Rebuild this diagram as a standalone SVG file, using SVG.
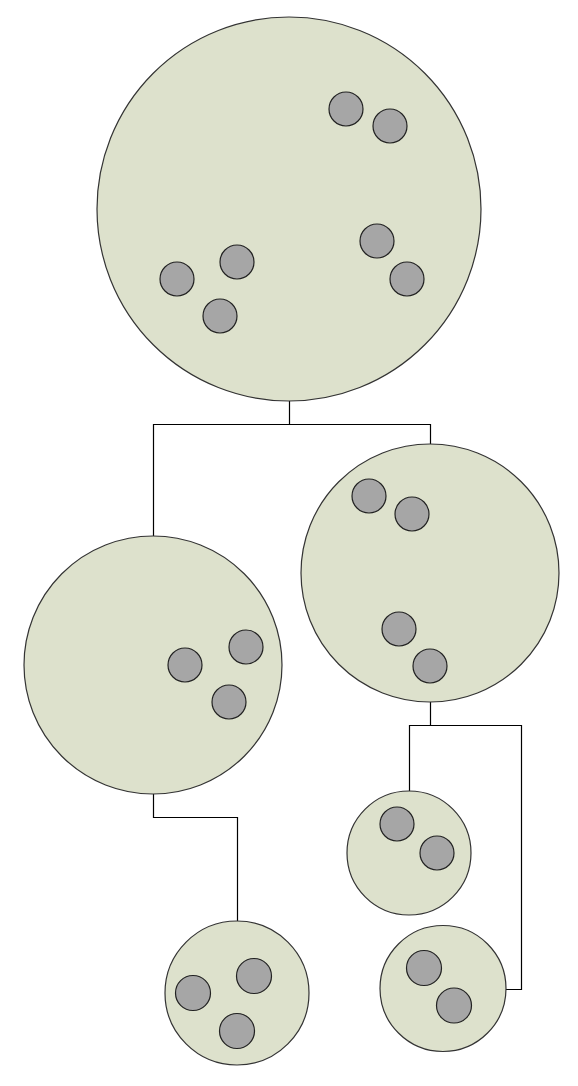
<svg xmlns="http://www.w3.org/2000/svg" width="578" height="1086" viewBox="0 0 578 1086">
<style>
.big{fill:#dde1cc;stroke:#333;stroke-width:1.2}
.dot{fill:#a6a6a6;stroke:#222;stroke-width:1.2}
.conn{fill:none;stroke:#000;stroke-width:1.2}
</style>
<rect width="578" height="1086" fill="#fff"/>
<g id="connectors">
<path class="conn" d="M289.5 401V424.5H153.5V536M289.5 424.5H430.5V444"/>
<path class="conn" d="M153.5 794V817.5H237.5V921"/>
<path class="conn" d="M430.5 702V725.5H409.5V791M430.5 725.5H521.5V989.5H506"/>
</g>
<g id="node-root">
<circle class="big" cx="289" cy="209" r="192"/>
<circle class="dot" cx="346" cy="109" r="17"/>
<circle class="dot" cx="390" cy="126" r="17"/>
<circle class="dot" cx="377" cy="241" r="17"/>
<circle class="dot" cx="407" cy="279" r="17"/>
<circle class="dot" cx="177" cy="279" r="17"/>
<circle class="dot" cx="237" cy="262" r="17"/>
<circle class="dot" cx="220" cy="316" r="17"/>
</g>
<g id="node-left">
<circle class="big" cx="153" cy="665" r="129"/>
<circle class="dot" cx="185" cy="665" r="17"/>
<circle class="dot" cx="246" cy="647" r="17"/>
<circle class="dot" cx="229" cy="702" r="17"/>
</g>
<g id="node-right">
<circle class="big" cx="430" cy="573" r="129"/>
<circle class="dot" cx="369" cy="496" r="17"/>
<circle class="dot" cx="412" cy="514" r="17"/>
<circle class="dot" cx="399" cy="629" r="17"/>
<circle class="dot" cx="430" cy="666" r="17"/>
</g>
<g id="node-bottom-left">
<circle class="big" cx="237" cy="993" r="72"/>
<circle class="dot" cx="193" cy="993" r="17.5"/>
<circle class="dot" cx="254" cy="976" r="17.5"/>
<circle class="dot" cx="237" cy="1031" r="17.5"/>
</g>
<g id="node-mid-right">
<circle class="big" cx="409" cy="853" r="62"/>
<circle class="dot" cx="397" cy="824" r="17"/>
<circle class="dot" cx="437" cy="853" r="17"/>
</g>
<g id="node-bottom-right">
<circle class="big" cx="443" cy="988.5" r="63"/>
<circle class="dot" cx="424" cy="968" r="17.5"/>
<circle class="dot" cx="454" cy="1005.5" r="17.5"/>
</g>
</svg>
